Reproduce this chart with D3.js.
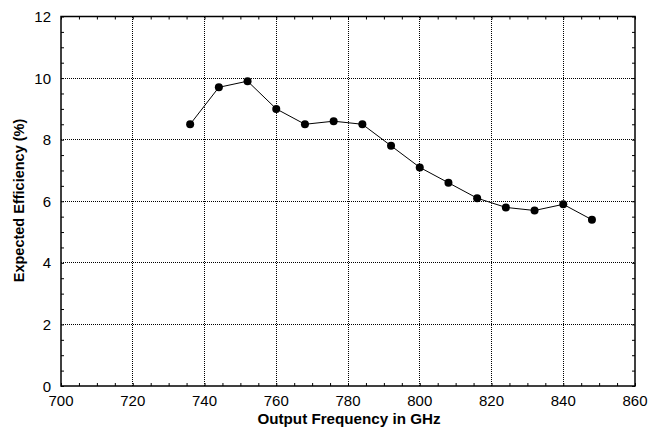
<!DOCTYPE html>
<html><head><meta charset="utf-8">
<script src="https://cdn.jsdelivr.net/npm/d3@7"></script>
<style>body{margin:0;background:#fff}svg{display:block}text{font-family:"Liberation Sans",Arial,sans-serif}</style>
</head><body><svg id="c" width="649" height="428"></svg>
<script>
const freq = [736,744,752,760,768,776,784,792,800,808,816,824,832,840,848];
const eff = [8.5,9.7,9.9,9.0,8.5,8.6,8.5,7.8,7.1,6.6,6.1,5.8,5.7,5.9,5.4];
const xTicks = [700,720,740,760,780,800,820,840,860];
const yTicks = [0,2,4,6,8,10,12];
const xLabel = "Output Frequency in GHz";
const yLabel = "Expected Efficiency (%)";

const svg = d3.select("#c");
const L=61,R=635,T=16.5,B=386;
const x = d3.scaleLinear().domain([700,860]).range([L,R]);
const y = d3.scaleLinear().domain([0,12]).range([B,T]);

const g = svg.append("g");
// grid
g.selectAll(".gx").data(xTicks.slice(1,-1)).join("line")
 .attr("x1",d=>x(d)).attr("x2",d=>x(d)).attr("y1",T).attr("y2",B)
 .attr("stroke","#000").attr("stroke-width",1).attr("stroke-dasharray","1,1").attr("shape-rendering","crispEdges");
g.selectAll(".gy").data(yTicks.slice(1,-1)).join("line")
 .attr("y1",d=>y(d)).attr("y2",d=>y(d)).attr("x1",L).attr("x2",R)
 .attr("stroke","#000").attr("stroke-width",1).attr("stroke-dasharray","1,1").attr("shape-rendering","crispEdges");

// axes with inward ticks
const xMinor = d3.range(700,861,5), yMinor = d3.range(0,12.01,0.5);
const ax = d3.axisBottom(x).tickValues(xMinor).tickSize(-3).tickFormat("");
const axT = d3.axisTop(x).tickValues(xMinor).tickSize(-3).tickFormat("");
const ay = d3.axisLeft(y).tickValues(yMinor).tickSize(-3).tickFormat("");
const ayR = d3.axisRight(y).tickValues(yMinor).tickSize(-3).tickFormat("");
[[ax,`translate(0,${B})`],[axT,`translate(0,${T})`],[ay,`translate(${L},0)`],[ayR,`translate(${R},0)`]].forEach(([a,t])=>{
  const s=svg.append("g").attr("transform",t).call(a);
  s.select(".domain").remove();
  s.selectAll("line").attr("stroke","#000");
});
svg.append("rect").attr("x",L).attr("y",T).attr("width",R-L).attr("height",B-T)
 .attr("fill","none").attr("stroke","#000").attr("stroke-width",1.5);

// tick labels
svg.selectAll(".xl").data(xTicks).join("text").attr("x",d=>x(d)).attr("y",B+19.5)
 .attr("text-anchor","middle").attr("font-size",15).text(d=>d);
svg.selectAll(".yl").data(yTicks).join("text").attr("x",L-10).attr("y",d=>y(d)+5.5)
 .attr("text-anchor","end").attr("font-size",15).text(d=>d);

svg.append("text").attr("x",349).attr("y",424).attr("text-anchor","middle")
 .attr("font-size",15.2).attr("font-weight","bold").text(xLabel);
svg.append("text").attr("transform",`translate(23.5,200.5) rotate(-90)`).attr("text-anchor","middle")
 .attr("font-size",14.5).attr("font-weight","bold").text(yLabel);

const data = freq.map((f,i)=>({f,v:eff[i]}));
svg.append("path").datum(data).attr("fill","none").attr("stroke","#000").attr("stroke-width",1)
 .attr("d",d3.line().x(d=>x(d.f)).y(d=>y(d.v)));
svg.selectAll(".pt").data(data).join("circle").attr("cx",d=>x(d.f)).attr("cy",d=>y(d.v))
 .attr("r",4).attr("fill","#000");
</script></body></html>
